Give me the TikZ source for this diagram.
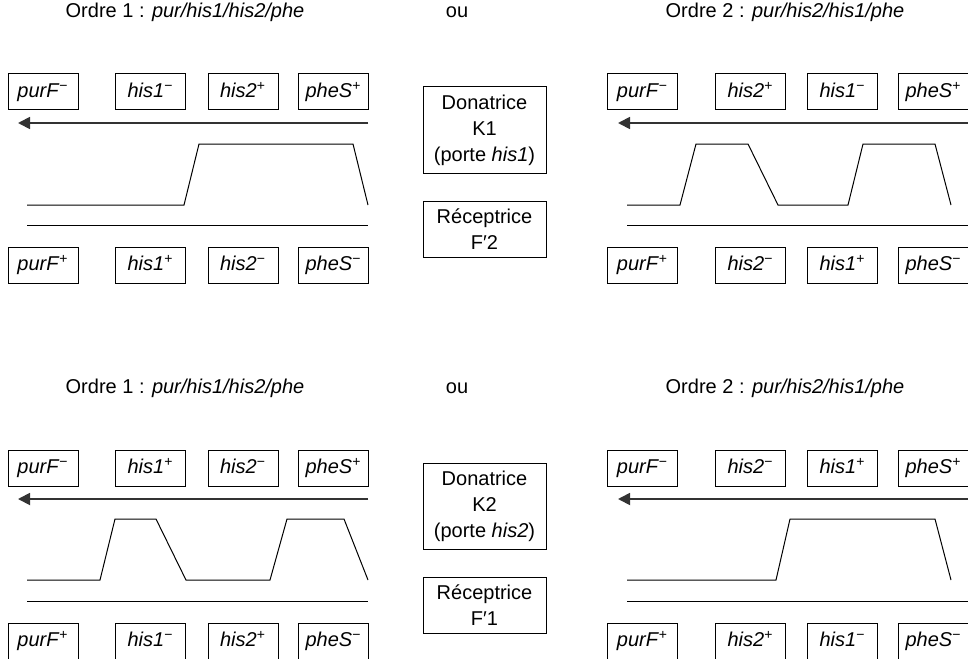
\documentclass[tikz,border=0pt]{standalone}
\usepackage{fontspec}
\setmainfont{Liberation Sans}
\usetikzlibrary{arrows.meta,positioning}

\begin{document}
\begin{tikzpicture}[x=0.5pt,y=-0.5pt,font=\fontsize{10}{13}\selectfont,
   gene/.style={draw,line width=0.5pt,minimum width=35pt,minimum height=18pt,inner sep=0pt,
                text height=7.5pt,text depth=2.2pt},
   boite/.style={draw,line width=0.5pt,minimum width=61.5pt,align=center,inner sep=0pt},
   sens/.style={-{Triangle[length=6pt,width=6pt]},line width=0.9pt,draw=black!80,fill=black!80},
   trace/.style={line width=0.5pt}]
  \useasboundingbox (0,0) rectangle (968,658);

  % croisement avec K1
  \node (ta1) at (185,12) {Ordre 1 : \textit{pur/his1/his2/phe}};
  \node (oua) at (457,12) {ou};
  \node (ta2) at (785,12) {Ordre 2 : \textit{pur/his2/his1/phe}};
  \foreach \x/\g/\s [count=\i] in {43/purF/−,150.5/his1/−,243/his2/+,333.5/pheS/+}
    \node[gene] (hg\i) at (\x,92) {\textit{\g}\textsuperscript{\s}};
  \foreach \x/\g/\s [count=\i] in {43/purF/+,150.5/his1/+,243/his2/−,333.5/pheS/−}
    \node[gene] (bg\i) at (\x,265) {\textit{\g}\textsuperscript{\s}};
  \foreach \x/\g/\s [count=\i] in {642.5/purF/−,750.5/his2/+,842.5/his1/−,933.5/pheS/+}
    \node[gene] (hd\i) at (\x,92) {\textit{\g}\textsuperscript{\s}};
  \foreach \x/\g/\s [count=\i] in {642.5/purF/+,750.5/his2/−,842.5/his1/+,933.5/pheS/−}
    \node[gene] (bd\i) at (\x,265) {\textit{\g}\textsuperscript{\s}};
  \node[boite,minimum height=43pt] (don1) at (484.5,130) {Donatrice\\K1\\(porte \textit{his1})};
  \node[boite,minimum height=28pt] (rec1) at (484.5,229) {Réceptrice\\F′2};
  \draw[sens] (368,123) -- (18,123);
  \draw[sens] (968,123) -- (618,123);
  \draw[trace] (27,205) -- (184,205) -- (199,144) -- (353,144) -- (368,205);
  \draw[trace] (627,205) -- (680,205) -- (696,144) -- (748,144) -- (778,205)
    -- (848,205) -- (863,144) -- (935,144) -- (951,205);
  \draw[trace] (27,225) -- (368,225);
  \draw[trace] (627,225) -- (968,225);

  % croisement avec K2
  \node (tb1) at (185,388) {Ordre 1 : \textit{pur/his1/his2/phe}};
  \node (oub) at (457,388) {ou};
  \node (tb2) at (785,388) {Ordre 2 : \textit{pur/his2/his1/phe}};
  \foreach \x/\g/\s [count=\i] in {43/purF/−,150.5/his1/+,243/his2/−,333.5/pheS/+}
    \node[gene] (hg\i) at (\x,468) {\textit{\g}\textsuperscript{\s}};
  \foreach \x/\g/\s [count=\i] in {43/purF/+,150.5/his1/−,243/his2/+,333.5/pheS/−}
    \node[gene] (bg\i) at (\x,641) {\textit{\g}\textsuperscript{\s}};
  \foreach \x/\g/\s [count=\i] in {642.5/purF/−,750.5/his2/−,842.5/his1/+,933.5/pheS/+}
    \node[gene] (hd\i) at (\x,468) {\textit{\g}\textsuperscript{\s}};
  \foreach \x/\g/\s [count=\i] in {642.5/purF/+,750.5/his2/+,842.5/his1/−,933.5/pheS/−}
    \node[gene] (bd\i) at (\x,641) {\textit{\g}\textsuperscript{\s}};
  \node[boite,minimum height=43pt] (don2) at (484.5,506) {Donatrice\\K2\\(porte \textit{his2})};
  \node[boite,minimum height=28pt] (rec2) at (484.5,605) {Réceptrice\\F′1};
  \draw[sens] (368,499) -- (18,499);
  \draw[sens] (968,499) -- (618,499);
  \draw[trace] (27,580) -- (100,580) -- (115,519) -- (156,519) -- (186,580)
    -- (270,580) -- (287,519) -- (344,519) -- (368,580);
  \draw[trace] (627,580) -- (776,580) -- (790,519) -- (935,519) -- (951,580);
  \draw[trace] (27,601) -- (368,601);
  \draw[trace] (627,601) -- (968,601);
\end{tikzpicture}
\end{document}
